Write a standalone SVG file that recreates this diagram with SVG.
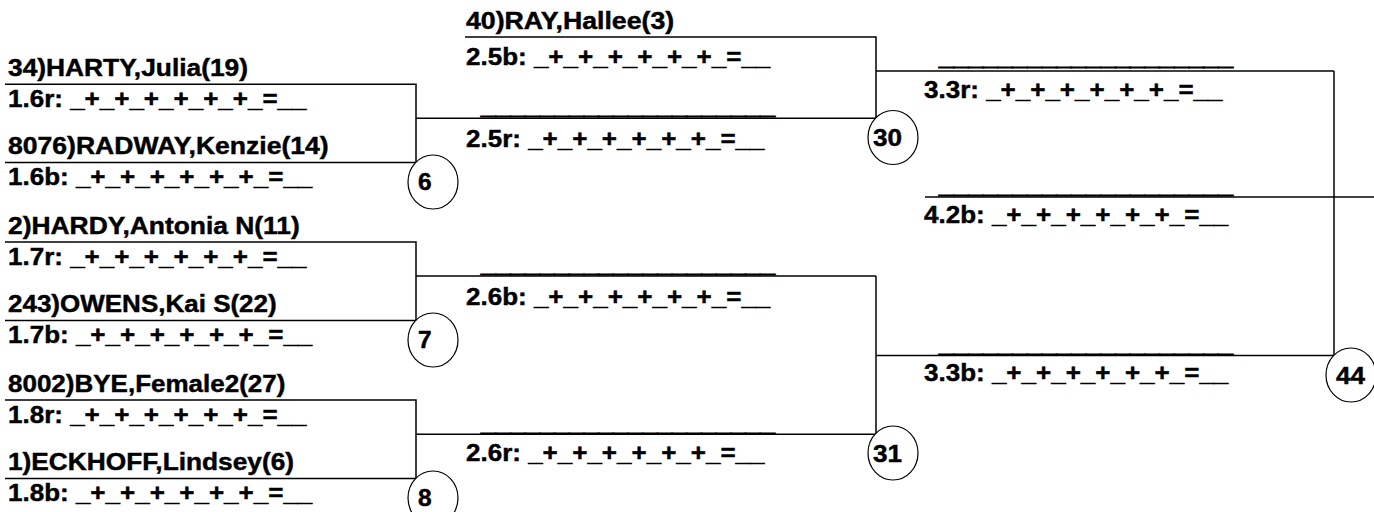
<svg xmlns="http://www.w3.org/2000/svg" width="1374" height="512" viewBox="0 0 1374 512">
<style>
  text { font-family: "Liberation Sans", Arial, sans-serif; font-weight: bold; font-size: 24.5px; fill: #000; stroke: #000; stroke-width: 0.45; }
  text.blank { stroke-width: 1.3; }
  .ln { stroke: #000; stroke-width: 1.5; fill: none; }
  .bout { fill: #fff; stroke: #000; stroke-width: 1.2; }
</style>
<rect width="1374" height="512" fill="#fff"/>

<g id="connectors">
  <path class="ln" d="M5 84.3 H416 V162.5 H5"/>
  <path class="ln" d="M416 118.3 H876"/>
  <path class="ln" d="M5 242 H416 V320.5 H5"/>
  <path class="ln" d="M416 276 H876"/>
  <path class="ln" d="M5 400 H416 V478.5 H5"/>
  <path class="ln" d="M416 434.3 H876"/>
  <path class="ln" d="M465 37 H876 V118.3"/>
  <path class="ln" d="M876 71 H1334"/>
  <path class="ln" d="M876 276 V434.3"/>
  <path class="ln" d="M876 355.5 H1334"/>
  <path class="ln" d="M1334 71 V355.5"/>
  <path class="ln" d="M925 197 H1374"/>
</g>

<g id="slot-1-6r">
  <text x="8" y="76" textLength="240" lengthAdjust="spacingAndGlyphs">34)HARTY,Julia(19)</text>
  <text x="8" y="107" textLength="298.5" lengthAdjust="spacingAndGlyphs">1.6r: _+_+_+_+_+_+_=__</text>
</g>
<g id="slot-1-6b">
  <text x="8" y="154" textLength="320.7" lengthAdjust="spacingAndGlyphs">8076)RADWAY,Kenzie(14)</text>
  <text x="8" y="185" textLength="304.3" lengthAdjust="spacingAndGlyphs">1.6b: _+_+_+_+_+_+_=__</text>
</g>
<g id="slot-1-7r">
  <text x="8" y="234" textLength="291.8" lengthAdjust="spacingAndGlyphs">2)HARDY,Antonia N(11)</text>
  <text x="8" y="265" textLength="298.5" lengthAdjust="spacingAndGlyphs">1.7r: _+_+_+_+_+_+_=__</text>
</g>
<g id="slot-1-7b">
  <text x="8" y="312" textLength="268.7" lengthAdjust="spacingAndGlyphs">243)OWENS,Kai S(22)</text>
  <text x="8" y="343" textLength="304.3" lengthAdjust="spacingAndGlyphs">1.7b: _+_+_+_+_+_+_=__</text>
</g>
<g id="slot-1-8r">
  <text x="8" y="392" textLength="277.4" lengthAdjust="spacingAndGlyphs">8002)BYE,Female2(27)</text>
  <text x="8" y="423" textLength="298.5" lengthAdjust="spacingAndGlyphs">1.8r: _+_+_+_+_+_+_=__</text>
</g>
<g id="slot-1-8b">
  <text x="8" y="470" textLength="286" lengthAdjust="spacingAndGlyphs">1)ECKHOFF,Lindsey(6)</text>
  <text x="8" y="501" textLength="304.3" lengthAdjust="spacingAndGlyphs">1.8b: _+_+_+_+_+_+_=__</text>
</g>

<g id="slot-2-5b">
  <text x="466" y="29" textLength="208.1" lengthAdjust="spacingAndGlyphs">40)RAY,Hallee(3)</text>
  <text x="466" y="65" textLength="304.3" lengthAdjust="spacingAndGlyphs">2.5b: _+_+_+_+_+_+_=__</text>
</g>
<g id="slot-2-5r">
  <text class="blank" x="481" y="114" textLength="294" lengthAdjust="spacingAndGlyphs">____________________</text>
  <text x="466" y="147" textLength="298.5" lengthAdjust="spacingAndGlyphs">2.5r: _+_+_+_+_+_+_=__</text>
</g>
<g id="slot-2-6b">
  <text class="blank" x="481" y="272" textLength="294" lengthAdjust="spacingAndGlyphs">____________________</text>
  <text x="466" y="305" textLength="304.3" lengthAdjust="spacingAndGlyphs">2.6b: _+_+_+_+_+_+_=__</text>
</g>
<g id="slot-2-6r">
  <text class="blank" x="481" y="430.5" textLength="294" lengthAdjust="spacingAndGlyphs">____________________</text>
  <text x="466" y="461" textLength="298.5" lengthAdjust="spacingAndGlyphs">2.6r: _+_+_+_+_+_+_=__</text>
</g>

<g id="slot-3-3r">
  <text class="blank" x="939" y="65" textLength="294" lengthAdjust="spacingAndGlyphs">____________________</text>
  <text x="924" y="98" textLength="298.5" lengthAdjust="spacingAndGlyphs">3.3r: _+_+_+_+_+_+_=__</text>
</g>
<g id="slot-4-2b">
  <text class="blank" x="939" y="193" textLength="294" lengthAdjust="spacingAndGlyphs">____________________</text>
  <text x="924" y="223" textLength="304.3" lengthAdjust="spacingAndGlyphs">4.2b: _+_+_+_+_+_+_=__</text>
</g>
<g id="slot-3-3b">
  <text class="blank" x="939" y="351.5" textLength="294" lengthAdjust="spacingAndGlyphs">____________________</text>
  <text x="924" y="381" textLength="304.3" lengthAdjust="spacingAndGlyphs">3.3b: _+_+_+_+_+_+_=__</text>
</g>

<g id="bout-6">
  <ellipse class="bout" cx="433" cy="182" rx="25" ry="27"/>
  <text x="418" y="190">6</text>
</g>
<g id="bout-7">
  <ellipse class="bout" cx="433" cy="340" rx="25" ry="27"/>
  <text x="418" y="348">7</text>
</g>
<g id="bout-8">
  <ellipse class="bout" cx="433" cy="498" rx="25" ry="27"/>
  <text x="418" y="506">8</text>
</g>
<g id="bout-30">
  <ellipse class="bout" cx="893" cy="137.5" rx="25" ry="27"/>
  <text x="873" y="146" textLength="29" lengthAdjust="spacingAndGlyphs">30</text>
</g>
<g id="bout-31">
  <ellipse class="bout" cx="893" cy="453" rx="25" ry="27"/>
  <text x="873" y="462" textLength="29" lengthAdjust="spacingAndGlyphs">31</text>
</g>
<g id="bout-44">
  <ellipse class="bout" cx="1351" cy="375" rx="25" ry="27"/>
  <text x="1336" y="384" textLength="29" lengthAdjust="spacingAndGlyphs">44</text>
</g>
</svg>
